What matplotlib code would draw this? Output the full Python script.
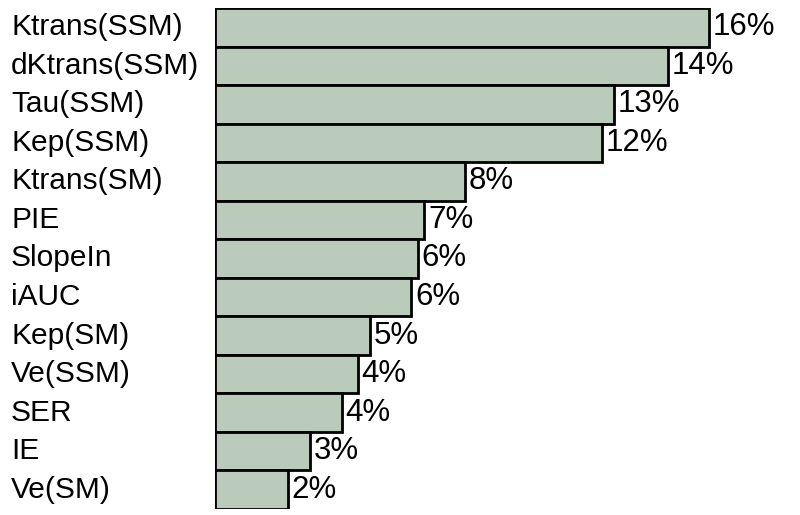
import matplotlib
matplotlib.use("Agg")
import matplotlib.pyplot as plt
import matplotlib.transforms as mtransforms

# Feature importance values (percent)
features = ["Ktrans(SSM)", "dKtrans(SSM)", "Tau(SSM)", "Kep(SSM)", "Ktrans(SM)",
            "PIE", "SlopeIn", "iAUC", "Kep(SM)", "Ve(SSM)", "SER", "IE", "Ve(SM)"]
values = [15.6, 14.3, 12.6, 12.2, 7.9, 6.6, 6.4, 6.2, 4.9, 4.5, 4.0, 3.0, 2.3]

plt.rcParams["font.family"] = ["Liberation Sans", "DejaVu Sans"]

fig = plt.figure(figsize=(8, 5.15), dpi=100)
ax = fig.add_axes([215 / 800, 6 / 515, 575 / 800, 501 / 515])

ypos = list(range(len(features)))
ax.barh(ypos, values, height=1.0, color="#bacabb", edgecolor="black", linewidth=2.0)

ax.set_ylim(len(features) - 0.5, -0.5)
ax.set_xlim(0, 18.15)

# Value labels at the end of each bar
for y, v in zip(ypos, values):
    ax.text(v + 0.12, y, "%d%%" % round(v), va="center", ha="left", fontsize=22.5)

# Feature names, left aligned at the figure's left edge
trans = mtransforms.blended_transform_factory(fig.transFigure, ax.transData)
for y, name in zip(ypos, features):
    ax.text(11 / 800, y, name, va="center", ha="left", fontsize=21.5, transform=trans)

ax.set_xticks([])
ax.set_yticks([])
for s in ax.spines.values():
    s.set_visible(False)

fig.savefig("out.png", dpi=100)
